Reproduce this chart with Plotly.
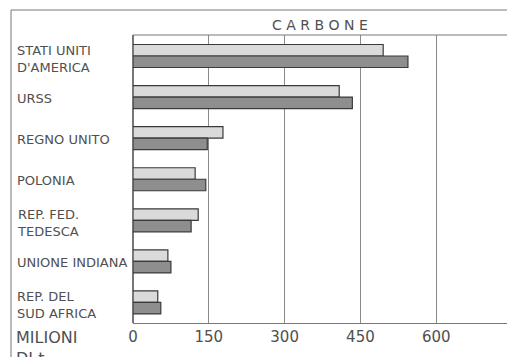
import plotly.graph_objects as go

# carbone, milioni di t
paesi = ["STATI UNITI<br>D'AMERICA", "URSS", "REGNO UNITO", "POLONIA",
         "REP. FED.<br>TEDESCA", "UNIONE INDIANA", "REP. DEL<br>SUD AFRICA"]
valori_a = [495, 408, 178, 123, 129, 69, 49]   # barra chiara
valori_b = [544, 434, 147, 144, 115, 75, 55]   # barra scura
tick_vals = [0, 150, 300, 450, 600]

ink = "#505050"
font = "DejaVu Sans"

fig = go.Figure()
fig.add_trace(go.Bar(y=paesi, x=valori_a, orientation="h",
                     marker=dict(color="#dadada", line=dict(color="#3a3a3a", width=1.2))))
fig.add_trace(go.Bar(y=paesi, x=valori_b, orientation="h",
                     marker=dict(color="#8e8e8e", line=dict(color="#3a3a3a", width=1.2))))

W, H = 507, 357
L, T, B = 133, 35, 34
pw = W - L
ph = H - T - B

def px_x(p):
    return (p - L) / pw

def px_y(p):
    return (H - B - p) / ph

# etichette paesi allineate a sinistra
for p in paesi:
    fig.add_annotation(x=px_x(15), xref="paper", y=p, yref="y", text=p,
                       xanchor="left", yanchor="middle", align="left", showarrow=False,
                       yshift=-3 if "<br>" in p else -1,
                       font=dict(family=font, size=13, color=ink))

fig.add_annotation(x=px_x(14), xref="paper", y=px_y(326), yref="paper",
                   text="MILIONI<br>DI t", xanchor="left", yanchor="top", align="left",
                   showarrow=False, font=dict(family=font, size=16, color=ink))

fig.add_annotation(x=px_x(320), xref="paper", y=px_y(25), yref="paper",
                   text="C A R B O N E", xanchor="center", yanchor="middle",
                   showarrow=False, font=dict(family=font, size=14, color=ink))

# cornice esterna
fig.add_shape(type="line", xref="paper", yref="paper", x0=px_x(11), x1=1.0,
              y0=px_y(10), y1=px_y(10), line=dict(color="#777", width=1))
fig.add_shape(type="line", xref="paper", yref="paper", x0=px_x(11), x1=px_x(11),
              y0=px_y(10), y1=px_y(360), line=dict(color="#777", width=1))
fig.add_shape(type="line", xref="paper", yref="paper", x0=0, x1=1,
              y0=1, y1=1, line=dict(color="#777", width=1))

fig.update_layout(
    width=W, height=H,
    margin=dict(l=L, r=0, t=T, b=B),
    barmode="group", bargap=0.44, bargroupgap=0,
    showlegend=False,
    plot_bgcolor="white", paper_bgcolor="white",
    xaxis=dict(range=[0, 740], tickvals=tick_vals, ticks="", showgrid=True,
               gridcolor="#8a8a8a", gridwidth=1, zeroline=True, zerolinecolor="#777",
               showline=True, linecolor="#777", linewidth=1,
               tickfont=dict(family=font, size=15, color=ink)),
    yaxis=dict(autorange="reversed", showticklabels=False, ticks="",
               showgrid=False, showline=False),
)

fig.write_html("out.html", config={"displayModeBar": False},
               post_script="document.body.style.margin='0';document.body.style.overflow='hidden';")
